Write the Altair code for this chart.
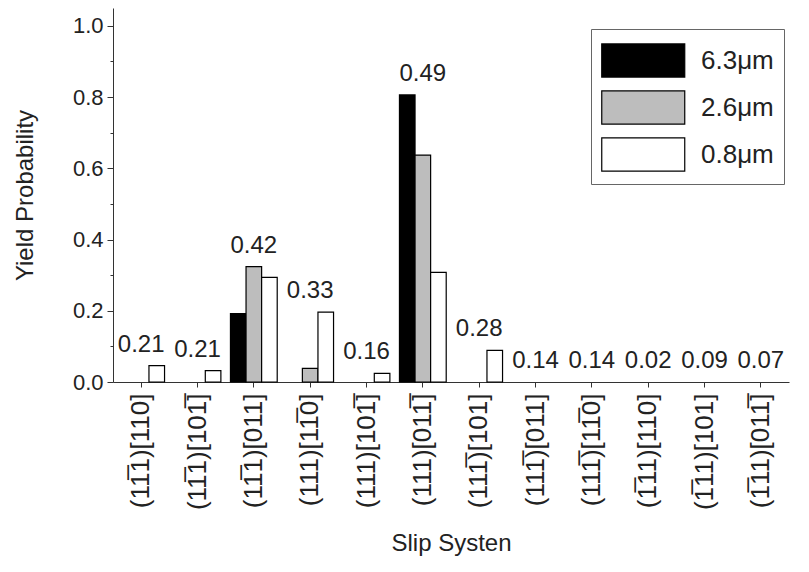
import altair as alt
import pandas as pd

OB = "\u0305"  # combining overline (bar over Miller index)
categories = [
    f"(11{OB}1)[110]",
    f"(11{OB}1)[101{OB}]",
    f"(11{OB}1)[011]",
    f"(111)[11{OB}0]",
    f"(111)[101{OB}]",
    f"(111)[011{OB}]",
    f"(111{OB})[101]",
    f"(111{OB})[011]",
    f"(111{OB})[11{OB}0]",
    f"(1{OB}11)[110]",
    f"(1{OB}11)[101]",
    f"(1{OB}11)[011{OB}]",
]
sizes = ["6.3\u03bcm", "2.6\u03bcm", "0.8\u03bcm"]
v_63 = [0, 0, 0.192, 0, 0, 0.806, 0, 0, 0, 0, 0, 0]
v_26 = [0, 0, 0.324, 0.038, 0, 0.637, 0, 0, 0, 0, 0, 0]
v_08 = [0.046, 0.032, 0.294, 0.196, 0.024, 0.308, 0.089, 0, 0, 0, 0, 0]
annotations = ["0.21", "0.21", "0.42", "0.33", "0.16", "0.49",
               "0.28", "0.14", "0.14", "0.02", "0.09", "0.07"]

rows = []
for s, vals in zip(sizes, [v_63, v_26, v_08]):
    for c, v in zip(categories, vals):
        rows.append({"slip": c, "size": s, "value": v})
df = pd.DataFrame(rows)

lab = pd.DataFrame({
    "slip": categories,
    "value": [max(a, b, c) for a, b, c in zip(v_63, v_26, v_08)],
    "txt": annotations,
})

FONT = "Liberation Sans"

x_enc = alt.X(
    "slip:N", sort=categories,
    scale=alt.Scale(domain=categories, paddingInner=0.17, paddingOuter=0.085),
    axis=alt.Axis(labelAngle=-90, labelFontSize=26, tickSize=5, labelPadding=6,
                  titleFontSize=24, titlePadding=22, labelLimit=300),
    title="Slip Systen",
)
y_enc = alt.Y(
    "value:Q",
    scale=alt.Scale(domain=[0, 1.05], nice=False),
    axis=alt.Axis(
        values=[round(i * 0.1, 1) for i in range(11)],
        labelExpr="round(datum.value*10) % 2 == 0 ? format(datum.value, '.1f') : ''",
        tickSize={"condition": {"test": "round(datum.value*10) % 2 == 0", "value": 6}, "value": 3},
        labelFontSize=22, labelPadding=4, titleFontSize=24, titlePadding=35, grid=False,
    ),
    title="Yield Probability",
)

bars = alt.Chart(df).transform_filter("datum.value > 0").mark_bar(
    stroke="black", strokeWidth=1.2
).encode(
    x=x_enc,
    y=y_enc,
    xOffset=alt.XOffset("size:N", sort=sizes,
                        scale=alt.Scale(domain=sizes, paddingInner=0, paddingOuter=0)),
    color=alt.Color(
        "size:N", sort=sizes,
        scale=alt.Scale(domain=sizes, range=["#000000", "#bdbdbd", "#ffffff"]),
        legend=alt.Legend(
            title=None, orient="none", legendX=478, legendY=21, direction="vertical",
            symbolType="M-1,-0.8H3V0.8H-1Z", symbolSize=1722,
            symbolStrokeColor="black", symbolStrokeWidth=1.2,
            labelFontSize=26, labelFont=FONT, labelColor="#222", labelOffset=57,
            rowPadding=6, padding=10, strokeColor="#666", fillColor="white",
        ),
    ),
)

texts = alt.Chart(lab).mark_text(
    dy=-21, fontSize=24, font=FONT, color="#222", baseline="middle"
).encode(x=x_enc, y=y_enc, text="txt:N")

chart = alt.layer(bars, texts).properties(
    width=676, height=374,
    padding={"left": 5, "top": 0, "right": 5, "bottom": 5},
).configure_view(stroke=None).configure_axis(
    domainColor="#333", tickColor="#333", labelColor="#222", titleColor="#222",
    labelFont=FONT, titleFont=FONT, titleFontWeight="normal",
)

chart.save("out.html", embed_options={"renderer": "svg", "actions": False})
